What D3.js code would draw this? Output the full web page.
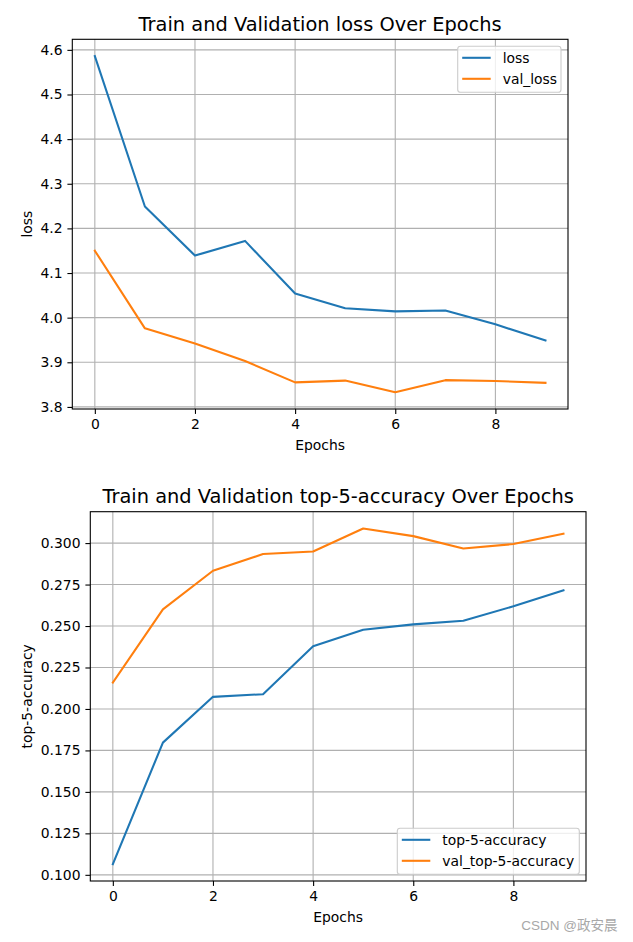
<!DOCTYPE html>
<html>
<head>
<meta charset="utf-8">
<script src="https://cdn.jsdelivr.net/npm/d3@7"></script>
<style>
  html, body { margin: 0; padding: 0; background: #fff; }
  svg { display: block; font-family: "DejaVu Sans", sans-serif; }
</style>
</head>
<body>
<svg id="chart" width="633" height="942"></svg>
<script>
const epochs = [0, 1, 2, 3, 4, 5, 6, 7, 8, 9];
const loss = [4.586, 4.249, 4.139, 4.172, 4.054, 4.021, 4.014, 4.016, 3.985, 3.949];
const valLoss = [4.150, 3.976, 3.942, 3.903, 3.855, 3.859, 3.833, 3.860, 3.858, 3.854];
const top5 = [0.1064, 0.1797, 0.2073, 0.2089, 0.2378, 0.2477, 0.2510, 0.2532, 0.2619, 0.2715];
const valTop5 = [0.2159, 0.2600, 0.2833, 0.2934, 0.2949, 0.3088, 0.3042, 0.2967, 0.2994, 0.3056];
const xTicks = [0, 2, 4, 6, 8];
const lossTicks = [3.8, 3.9, 4.0, 4.1, 4.2, 4.3, 4.4, 4.5, 4.6];
const accTicks = [0.100, 0.125, 0.150, 0.175, 0.200, 0.225, 0.250, 0.275, 0.300];

const svg = d3.select("#chart");
const BLUE = "#1f77b4", ORANGE = "#ff7f0e";

function padDomain(vals) {
  const lo = d3.min(vals), hi = d3.max(vals), m = (hi - lo) * 0.05;
  return [lo - m, hi + m];
}

function panel(opts) {
  const { left, right, top, bottom, title, ylabel, s1, s2, names, yTicks, yFmt, legend } = opts;
  const g = svg.append("g");
  const x = d3.scaleLinear().domain(padDomain(epochs)).range([left, right]);
  const y = d3.scaleLinear().domain(padDomain(s1.concat(s2))).range([bottom, top]);

  // grid
  g.append("g").selectAll("line").data(xTicks).join("line")
    .attr("x1", d => x(d)).attr("x2", d => x(d)).attr("y1", top).attr("y2", bottom)
    .attr("stroke", "#b0b0b0").attr("stroke-width", 1.1);
  g.append("g").selectAll("line").data(yTicks).join("line")
    .attr("x1", left).attr("x2", right).attr("y1", d => y(d)).attr("y2", d => y(d))
    .attr("stroke", "#b0b0b0").attr("stroke-width", 1.1);

  // lines
  const line = d3.line().x((d, i) => x(epochs[i])).y(d => y(d));
  g.append("path").datum(s1).attr("d", line).attr("fill", "none")
    .attr("stroke", BLUE).attr("stroke-width", 2.08).attr("stroke-linejoin", "round").attr("stroke-linecap", "square");
  g.append("path").datum(s2).attr("d", line).attr("fill", "none")
    .attr("stroke", ORANGE).attr("stroke-width", 2.08).attr("stroke-linejoin", "round").attr("stroke-linecap", "square");

  // axes
  const xa = g.append("g").attr("transform", `translate(0,${bottom})`)
    .call(d3.axisBottom(x).tickValues(xTicks).tickFormat(d3.format("d")).tickSize(4.9).tickPadding(4.9));
  const ya = g.append("g").attr("transform", `translate(${left},0)`)
    .call(d3.axisLeft(y).tickValues(yTicks).tickFormat(yFmt).tickSize(4.9).tickPadding(4.9));
  [xa, ya].forEach(a => {
    a.select(".domain").remove();
    a.selectAll(".tick line").attr("stroke", "#000").attr("stroke-width", 1.1);
    a.selectAll(".tick text").attr("fill", "#000").style("font-size", "13.9px")
      .style("font-family", "DejaVu Sans, sans-serif");
  });

  // frame
  g.append("rect").attr("x", left).attr("y", top).attr("width", right - left).attr("height", bottom - top)
    .attr("fill", "none").attr("stroke", "#000").attr("stroke-width", 1.1);

  // title & labels
  g.append("text").attr("x", (left + right) / 2).attr("y", top - 8.5).attr("text-anchor", "middle")
    .style("font-size", "19.4px").text(title);
  g.append("text").attr("x", (left + right) / 2).attr("y", bottom + 40.5).attr("text-anchor", "middle")
    .style("font-size", "13.9px").text("Epochs");
  g.append("text").attr("transform", `translate(${opts.ylabelX},${(top + bottom) / 2}) rotate(-90)`)
    .attr("text-anchor", "middle").style("font-size", "13.9px").text(ylabel);

  // legend
  const lg = g.append("g");
  lg.append("rect").attr("x", legend.x).attr("y", legend.y).attr("width", legend.w).attr("height", legend.h)
    .attr("rx", 2.8).attr("fill", "#fff").attr("fill-opacity", 0.8).attr("stroke", "#cccccc").attr("stroke-width", 1.1);
  [BLUE, ORANGE].forEach((c, i) => {
    const cy = legend.y + 11.5 + i * 21;
    lg.append("line").attr("x1", legend.x + 4.5).attr("x2", legend.x + 33).attr("y1", cy).attr("y2", cy)
      .attr("stroke", c).attr("stroke-width", 2.08);
    lg.append("text").attr("x", legend.x + 45).attr("y", cy + 5).style("font-size", "13.9px").text(names[i]);
  });
}

panel({
  left: 72.3, right: 568, top: 39.3, bottom: 409,
  title: "Train and Validation loss Over Epochs", ylabel: "loss", ylabelX: 32,
  s1: loss, s2: valLoss, names: ["loss", "val_loss"],
  yTicks: lossTicks, yFmt: d3.format(".1f"),
  legend: { x: 457.7, y: 46.3, w: 103.3, h: 46 }
});

panel({
  left: 90.3, right: 586, top: 511.7, bottom: 881,
  title: "Train and Validation top-5-accuracy Over Epochs", ylabel: "top-5-accuracy", ylabelX: 32,
  s1: top5, s2: valTop5, names: ["top-5-accuracy", "val_top-5-accuracy"],
  yTicks: accTicks, yFmt: d3.format(".3f"),
  legend: { x: 397.3, y: 828.3, w: 182, h: 46 }
});

svg.append("text").attr("x", 617.5).attr("y", 929.5).attr("text-anchor", "end")
  .style("font-family", "Liberation Sans, Noto Sans CJK SC, sans-serif").style("font-size", "13.5px")
  .attr("fill", "#a8a8a8").text("CSDN @政安晨");
</script>
</body>
</html>
